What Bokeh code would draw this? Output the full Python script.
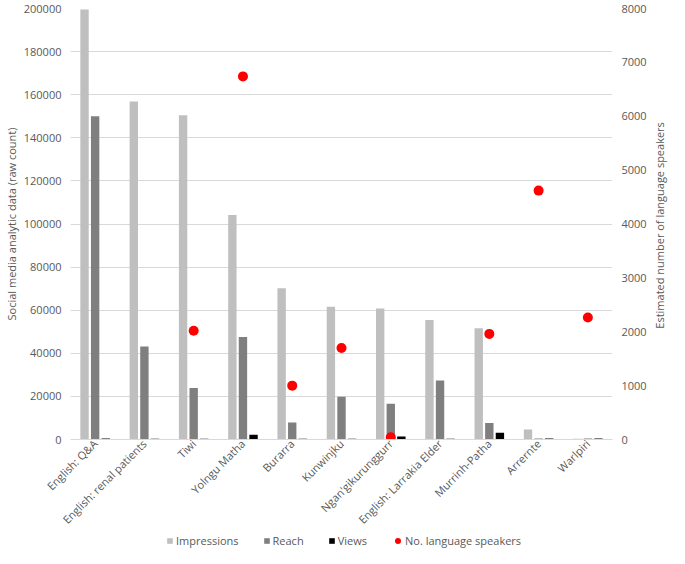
from bokeh.plotting import figure
from bokeh.layouts import column, row
from bokeh.models import (ColumnDataSource, Range1d, FactorRange, LinearAxis, Legend,
                          LegendItem, SingleIntervalTicker, NumeralTickFormatter, Title)
from bokeh.transform import dodge
from bokeh.embed import file_html
from bokeh.resources import INLINE
import math

categories = ["English: Q&A", "English: renal patients", "Tiwi", "Yolngu Matha", "Burarra",
              "Kunwinjku", "Ngan'gikurunggurr", "English: Larrakia Elder", "Murrinh-Patha",
              "Arrernte", "Warlpiri"]
impressions = [199500, 156800, 150500, 104200, 70200, 61600, 60800, 55500, 51600, 4600, 400]
reach = [150000, 43200, 23900, 47600, 7900, 19800, 16600, 27400, 7600, 500, 500]
views = [500, 400, 400, 2200, 400, 400, 1400, 400, 3100, 500, 500]
speakers_cats = ["Tiwi", "Yolngu Matha", "Burarra", "Kunwinjku", "Ngan'gikurunggurr",
                 "Murrinh-Patha", "Arrernte", "Warlpiri"]
speakers = [2020, 6740, 1000, 1700, 40, 1960, 4620, 2265]

FONT = "Open Sans"
TXT = "#595959"
FS = "11px"
C_IMP, C_REACH, C_VIEWS, C_SPK = "#BFBFBF", "#7F7F7F", "#000000", "#FF0000"

src = ColumnDataSource(dict(cat=categories, imp=impressions, reach=reach, views=views))
spk = ColumnDataSource(dict(cat=speakers_cats, n=speakers))

MAIN_H = 534
TOP_B = 8

p = figure(width=649, height=MAIN_H, output_backend="svg", toolbar_location=None,
           x_range=FactorRange(*categories, range_padding=0), y_range=Range1d(0, 200000),
           min_border_left=64, min_border_right=32, min_border_top=TOP_B, min_border_bottom=80)
p.outline_line_color = None
p.extra_y_ranges = {"right": Range1d(0, 8000)}

bw = 0.17
p.vbar(x=dodge("cat", -0.215, range=p.x_range), top="imp", width=bw, source=src,
       fill_color=C_IMP, line_color=None)
p.vbar(x=dodge("cat", 0.0, range=p.x_range), top="reach", width=bw, source=src,
       fill_color=C_REACH, line_color=None)
p.vbar(x=dodge("cat", 0.215, range=p.x_range), top="views", width=bw, source=src,
       fill_color=C_VIEWS, line_color=None)
p.scatter(x=dodge("cat", 0.0, range=p.x_range), y="n", source=spk, y_range_name="right",
          size=10, fill_color=C_SPK, line_color=None)


def style_axis(ax):
    ax.axis_line_color = None
    ax.major_tick_line_color = None
    ax.minor_tick_line_color = None
    ax.major_tick_out = 0
    ax.major_tick_in = 0
    ax.minor_tick_out = 0
    ax.major_label_text_font = FONT
    ax.major_label_text_font_size = FS
    ax.major_label_text_color = TXT
    ax.axis_label_text_font = FONT
    ax.axis_label_text_font_size = FS
    ax.axis_label_text_font_style = "normal"
    ax.axis_label_text_color = TXT


# left axis
ya = p.yaxis[0]
style_axis(ya)
ya.ticker = SingleIntervalTicker(interval=20000)
ya.formatter = NumeralTickFormatter(format="0")
ya.major_label_standoff = 9
ya.axis_label = "Social media analytic data (raw count)"
ya.axis_label_standoff = 2

# right axis (its title is drawn in the narrow strip to the right)
ra = LinearAxis(y_range_name="right", ticker=SingleIntervalTicker(interval=1000),
                formatter=NumeralTickFormatter(format="0"))
style_axis(ra)
ra.major_label_standoff = 9
p.add_layout(ra, "right")

# x axis
xa = p.xaxis[0]
style_axis(xa)
xa.axis_line_color = "#D9D9D9"
xa.major_label_orientation = math.pi / 4
xa.major_label_standoff = 2

p.xgrid.grid_line_color = None
p.ygrid.grid_line_color = "#D9D9D9"
p.ygrid.ticker = SingleIntervalTicker(interval=20000)

# right-axis title strip: a left-side title reads bottom-to-top
side = figure(width=20, height=MAIN_H, output_backend="svg", toolbar_location=None,
              x_axis_location=None, y_axis_location=None,
              x_range=Range1d(0, 1), y_range=Range1d(0, 1),
              min_border_left=0, min_border_right=0, min_border_top=TOP_B,
              min_border_bottom=80)
side.grid.visible = False
side.outline_line_color = None
side.add_layout(Title(text="Estimated number  of language speakers", align="center",
                      text_font=FONT, text_font_size=FS, text_font_style="normal",
                      text_color=TXT, standoff=0, offset=0), "left")

# legend strip; the key renderers' single point lies far outside this strip's ranges
lg = figure(width=669, height=14, output_backend="svg", toolbar_location=None,
            x_range=Range1d(0, 1), y_range=Range1d(0, 1),
            min_border_left=64, min_border_right=0, min_border_top=0, min_border_bottom=0)
lg.axis.visible = False
lg.grid.visible = False
lg.outline_line_color = None
key_src = ColumnDataSource(dict(x=[speakers[0]], y=[speakers[0]]))
l1 = lg.vbar(x="x", top="y", bottom="y", width=0.1, source=key_src, fill_color=C_IMP, line_color=None)
l2 = lg.vbar(x="x", top="y", bottom="y", width=0.1, source=key_src, fill_color=C_REACH, line_color=None)
l3 = lg.vbar(x="x", top="y", bottom="y", width=0.1, source=key_src, fill_color=C_VIEWS, line_color=None)
l4 = lg.scatter(x="x", y="y", source=key_src, size=8, fill_color=C_SPK, line_color=None)

common = dict(orientation="horizontal", border_line_color=None, background_fill_alpha=0,
              label_text_font=FONT, label_text_font_size=FS, label_text_color=TXT,
              label_standoff=3, padding=0, margin=0, label_height=14)
legA = Legend(items=[LegendItem(label="Impressions", renderers=[l1]),
                     LegendItem(label="Reach", renderers=[l2]),
                     LegendItem(label="Views", renderers=[l3])],
              location=(102, 0), glyph_width=7, glyph_height=7, spacing=24, **common)
legB = Legend(items=[LegendItem(label="No. language speakers", renderers=[l4])],
              location=(326, 0), glyph_width=15, glyph_height=15, **common)
legB.label_standoff = -2
lg.add_layout(legA)
lg.add_layout(legB)

layout = column(row(p, side, spacing=0), lg, spacing=0)
open("out.html", "w").write(file_html(layout, INLINE))
